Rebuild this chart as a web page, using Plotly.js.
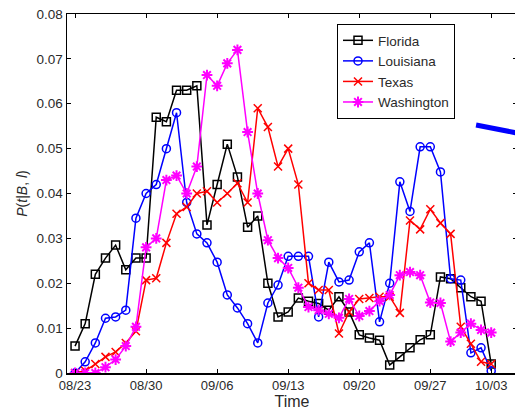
<!DOCTYPE html>
<html>
<head>
<meta charset="utf-8">
<script src="https://cdn.plot.ly/plotly-3.0.1.min.js"></script>
<style>
html, body { margin:0; padding:0; overflow:hidden; background:#fff; }
#chart { width:520px; height:410px; }
</style>
</head>
<body>
<div id="chart"></div>
<script>
const dates = ['2005-08-23','2005-08-24','2005-08-25','2005-08-26','2005-08-27','2005-08-28','2005-08-29','2005-08-30','2005-08-31','2005-09-01','2005-09-02','2005-09-03','2005-09-04','2005-09-05','2005-09-06','2005-09-07','2005-09-08','2005-09-09','2005-09-10','2005-09-11','2005-09-12','2005-09-13','2005-09-14','2005-09-15','2005-09-16','2005-09-17','2005-09-18','2005-09-19','2005-09-20','2005-09-21','2005-09-22','2005-09-23','2005-09-24','2005-09-25','2005-09-26','2005-09-27','2005-09-28','2005-09-29','2005-09-30','2005-10-01','2005-10-02','2005-10-03'];

const florida = [0.006,0.011,0.022,0.0256,0.0285,0.023,0.0256,0.0256,0.057,0.056,0.063,0.063,0.064,0.033,0.042,0.051,0.0437,0.0325,0.035,0.02,0.0125,0.0136,0.0167,0.016,0.0155,0.014,0.017,0.0136,0.0085,0.0078,0.0073,0.0018,0.0036,0.0056,0.0074,0.0085,0.0214,0.021,0.019,0.017,0.016,0.002];
const louisiana = [0,0.0025,0.0067,0.0122,0.0125,0.014,0.0345,0.040,0.042,0.050,0.058,0.038,0.031,0.029,0.0247,0.0174,0.0145,0.011,0.0067,0.0156,0.0196,0.026,0.026,0.026,0.0125,0.0247,0.0203,0.0207,0.027,0.029,0.0114,0.02,0.0426,0.036,0.0504,0.0504,0.0448,0.021,0.0207,0.0045,0.0056,0.0005];
const texas = [0,0.0005,0.002,0.0036,0.0047,0.0067,0.0093,0.0207,0.0211,0.029,0.0355,0.037,0.040,0.0405,0.038,0.040,0.0423,0.038,0.059,0.0548,0.046,0.050,0.042,0.020,0.0185,0.0185,0.0088,0.0136,0.0165,0.0167,0.017,0.017,0.0134,0.034,0.032,0.0365,0.0334,0.031,0.0103,0.0065,0.0025,0.002];
const washington = [0,0,0,0.0013,0.003,0.006,0.0103,0.028,0.030,0.043,0.044,0.040,0.046,0.0664,0.064,0.069,0.072,0.0537,0.040,0.0296,0.0256,0.0234,0.019,0.0147,0.014,0.0132,0.0123,0.0165,0.0127,0.0138,0.016,0.0174,0.0218,0.0225,0.0218,0.0157,0.0156,0.007,0.009,0.011,0.0096,0.009];

const seriesNames = ['Florida','Louisiana','Texas','Washington'];
const tickDates = ['2005-08-23','2005-08-30','2005-09-06','2005-09-13','2005-09-20','2005-09-27','2005-10-03'];
const tickLabels = ['08/23','08/30','09/06','09/13','09/20','09/27','10/03'];
const yTicks = [0,0.01,0.02,0.03,0.04,0.05,0.06,0.07,0.08];
const yTickLabels = ['0','0.01','0.02','0.03','0.04','0.05','0.06','0.07','0.08'];

function tr(name, y, color, symbol, msize, mlw) {
  return {
    x: dates, y: y, name: name, type: 'scatter', mode: 'lines+markers',
    line: {color: color, width: 1.5},
    marker: {symbol: symbol, size: msize, color: color, line: {color: color, width: mlw}}
  };
}

const data = [
  tr(seriesNames[0], florida, '#000000', 'square-open', 8, 1.5),
  tr(seriesNames[1], louisiana, '#0000ff', 'circle-open', 8, 1.5),
  tr(seriesNames[2], texas, '#ff0000', 'x-thin-open', 8, 1.5),
  tr(seriesNames[3], washington, '#ff00ff', 'asterisk-open', 9, 2)
];

const fam = 'Liberation Sans, Arial, sans-serif';
const txt = '#2a2a2a';

const layout = {
  width: 520, height: 410,
  margin: {l: 67, r: 3, t: 14, b: 37},
  paper_bgcolor: '#fff', plot_bgcolor: '#fff',
  showlegend: true,
  font: {family: fam, size: 13, color: txt},
  xaxis: {
    type: 'date',
    range: ['2005-08-22 05:00', '2005-10-05 13:00'],
    tickmode: 'array', tickvals: tickDates, ticktext: tickLabels,
    ticks: 'inside', ticklen: 4, tickwidth: 1, tickcolor: '#000',
    showline: true, linecolor: '#000', linewidth: 1.5, mirror: 'ticks',
    showgrid: false, zeroline: false,
    tickfont: {family: fam, size: 13, color: txt},
    title: {text: 'Time', font: {family: fam, size: 16, color: txt}, standoff: 2}
  },
  yaxis: {
    range: [0, 0.08],
    tickmode: 'array', tickvals: yTicks, ticktext: yTickLabels,
    ticks: 'inside', ticklen: 4, tickwidth: 1, tickcolor: '#000',
    showline: true, linecolor: '#000', linewidth: 1.5, mirror: 'ticks',
    showgrid: false, zeroline: false,
    tickfont: {family: fam, size: 13.5, color: txt},
    title: {text: '<i>P</i>(<i>t</i>|<i>B</i>, <i>l</i>)', font: {family: fam, size: 14, color: txt}, standoff: 5}
  },
  legend: {
    x: 0.600, y: 0.972, xanchor: 'left', yanchor: 'top',
    bgcolor: '#fff', bordercolor: '#000', borderwidth: 1,
    font: {family: fam, size: 13.5, color: txt},
    tracegroupgap: 0
  },
  shapes: [{
    type: 'line', xref: 'paper', yref: 'paper',
    x0: 0.909, y0: 0.691, x1: 1.01, y1: 0.666,
    line: {color: '#0000ff', width: 5}
  }]
};

Plotly.newPlot('chart', data, layout, {displayModeBar: false, staticPlot: true});
</script>
</body>
</html>
